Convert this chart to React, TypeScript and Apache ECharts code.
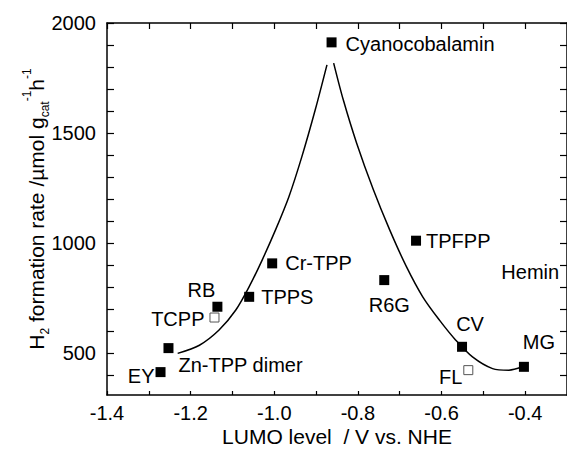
import React, { useEffect, useRef } from 'react';
import * as echarts from 'echarts';

const FONT = '"Liberation Sans", Arial, Helvetica, sans-serif';

// Axis ticks / labels
const xTicks = [-1.4, -1.3, -1.2, -1.1, -1.0, -0.9, -0.8, -0.7, -0.6, -0.5, -0.4];
const xLabels = [-1.4, -1.2, -1.0, -0.8, -0.6, -0.4];
const yTicks = [400, 500, 600, 700, 800, 900, 1000, 1100, 1200, 1300, 1400, 1500, 1600, 1700, 1800, 1900, 2000];
const yLabels = [500, 1000, 1500, 2000];

// Filled square points
const filledNames = ['Cyanocobalamin', 'TPFPP', 'Cr-TPP', 'TPPS', 'RB', 'R6G', 'CV', 'MG', 'Zn-TPP dimer', 'EY'];
const filledX = [-0.863, -0.661, -1.005, -1.060, -1.136, -0.737, -0.551, -0.403, -1.253, -1.272];
const filledY = [1912, 1011, 908, 756, 711, 832, 529, 438, 523, 414];

// Open square points
const openNames = ['TCPP', 'FL'];
const openX = [-1.143, -0.536];
const openY = [662, 423];

// Label-only annotation
const heminX = [-0.388];
const heminY = [869];

// Fitted curves (two branches)
const leftCurveX = [-1.231, -1.179, -1.132, -1.092, -1.060, -1.029, -0.997, -0.965, -0.934, -0.902, -0.874];
const leftCurveY = [499, 536, 605, 696, 802, 923, 1060, 1211, 1393, 1606, 1810];
const rightCurveX = [-0.858, -0.835, -0.803, -0.763, -0.724, -0.684, -0.645, -0.605, -0.566, -0.526, -0.478, -0.439, -0.407];
const rightCurveY = [1818, 1651, 1454, 1242, 1060, 893, 756, 650, 559, 483, 430, 423, 438];

type LabelCfg = { position: string; distance?: number; offset: [number, number] };
const labelLayout: Record<string, LabelCfg> = {
  'Cyanocobalamin': { position: 'right', distance: 9, offset: [0, 2] },
  'TPFPP': { position: 'right', distance: 5, offset: [0, 0] },
  'Cr-TPP': { position: 'right', distance: 8, offset: [0, 0] },
  'TPPS': { position: 'right', distance: 7, offset: [0, 0] },
  'RB': { position: 'inside', offset: [-16, -17] },
  'R6G': { position: 'inside', offset: [5, 25] },
  'CV': { position: 'inside', offset: [8, -23] },
  'MG': { position: 'inside', offset: [15, -25] },
  'Zn-TPP dimer': { position: 'right', distance: 5, offset: [0, 17] },
  'EY': { position: 'left', distance: 1, offset: [0, 4] },
  'TCPP': { position: 'left', distance: 5, offset: [0, 1] },
  'FL': { position: 'left', distance: 1, offset: [0, 7] },
  'Hemin': { position: 'inside', offset: [0, 0] },
};

const labelBase = { show: true, fontSize: 20, fontFamily: FONT, color: '#000' };

function pointData(names: string[], xs: number[], ys: number[]) {
  return names.map((n, i) => {
    const l = labelLayout[n];
    return {
      name: n,
      value: [xs[i], ys[i]],
      label: { ...labelBase, formatter: n, position: l.position, distance: l.distance ?? 5, offset: l.offset },
    };
  });
}

export default function App() {
  const ref = useRef<HTMLDivElement>(null);
  useEffect(() => {
    if (!ref.current) return;
    const chart = echarts.init(ref.current, undefined, { renderer: 'svg' });
    const axisLine = { show: true, onZero: false, lineStyle: { color: '#000', width: 1.5 } };
    const tickStyle = { color: '#000', width: 1.2 };
    const curveCommon = {
      type: 'line', xAxisIndex: 0, yAxisIndex: 0, smooth: 0.3,
      showSymbol: false, symbol: 'none', lineStyle: { color: '#000', width: 1.5 }, z: 2,
    };
    chart.setOption({
      animation: false,
      backgroundColor: '#fff',
      grid: { left: 107, right: -3, top: 23, bottom: 60, containLabel: false },
      xAxis: [
        {
          type: 'value', min: -1.4, max: -0.3, position: 'bottom',
          axisLine,
          axisTick: { show: true, inside: true, length: 4, customValues: xTicks, lineStyle: tickStyle },
          axisLabel: { customValues: xLabels, formatter: (v: number) => v.toFixed(1), fontSize: 20, fontFamily: FONT, color: '#000', margin: 8 },
          splitLine: { show: false },
          name: 'LUMO level \u00a0/ V vs. NHE', nameLocation: 'middle', nameGap: 31, nameMoveOverlap: false,
          nameTextStyle: { fontSize: 21, fontFamily: FONT, color: '#000' },
        },
        {
          type: 'value', min: -1.4, max: -0.3, position: 'top',
          axisLine,
          axisTick: { show: true, inside: true, length: 6, customValues: xTicks, lineStyle: tickStyle },
          axisLabel: { show: false },
          splitLine: { show: false },
        },
      ],
      yAxis: [
        {
          type: 'value', min: 310, max: 2000, position: 'left',
          axisLine,
          axisTick: { show: true, inside: true, length: 7, customValues: yTicks, lineStyle: tickStyle },
          axisLabel: { customValues: yLabels, formatter: (v: number) => String(v), fontSize: 20, fontFamily: FONT, color: '#000', margin: 11 },
          splitLine: { show: false },
          name: '{a|H}{sub|2}{a| formation rate /µmol g}{sub|cat}{sup|-1}{a|h}{sup|-1}',
          nameLocation: 'middle', nameRotate: 90, nameGap: 56, nameMoveOverlap: false,
          nameTextStyle: {
            fontSize: 21, fontFamily: FONT, color: '#000',
            rich: {
              a: { fontSize: 21, fontFamily: FONT, color: '#000', lineHeight: 30, verticalAlign: 'middle' },
              sub: { fontSize: 12, fontFamily: FONT, color: '#000', lineHeight: 12, verticalAlign: 'bottom' },
              sup: { fontSize: 12, fontFamily: FONT, color: '#000', lineHeight: 12, verticalAlign: 'top' },
            },
          },
        },
        {
          type: 'value', min: 310, max: 2000, position: 'right',
          axisLine,
          axisTick: { show: true, inside: true, length: 7, customValues: yTicks, lineStyle: tickStyle },
          axisLabel: { show: false },
          splitLine: { show: false },
        },
      ],
      series: [
        { ...curveCommon, data: leftCurveX.map((x, i) => [x, leftCurveY[i]]) },
        { ...curveCommon, data: rightCurveX.map((x, i) => [x, rightCurveY[i]]) },
        {
          type: 'scatter', xAxisIndex: 0, yAxisIndex: 0, symbol: 'rect', symbolSize: 10, z: 3,
          itemStyle: { color: '#000', opacity: 1 },
          data: pointData(filledNames, filledX, filledY),
        },
        {
          type: 'scatter', xAxisIndex: 0, yAxisIndex: 0, symbol: 'rect', symbolSize: 9, z: 3,
          itemStyle: { color: '#fff', borderColor: '#555', borderWidth: 1, opacity: 1 },
          data: pointData(openNames, openX, openY),
        },
        {
          type: 'scatter', xAxisIndex: 0, yAxisIndex: 0, symbol: 'rect', symbolSize: 1, z: 3,
          itemStyle: { color: 'rgba(0,0,0,0)', opacity: 1 },
          data: pointData(['Hemin'], heminX, heminY),
        },
      ],
    });
    return () => chart.dispose();
  }, []);
  return <div ref={ref} style={{ width: 567, height: 455, position: 'fixed', left: 0, top: 0 }} />;
}
